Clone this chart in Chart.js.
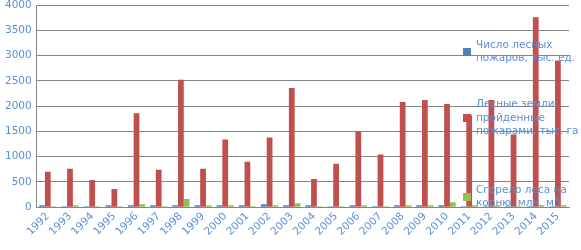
<!DOCTYPE html>
<html>
<head>
<meta charset="utf-8">
<script src="https://cdn.jsdelivr.net/npm/chart.js@4"></script>
<style>
  html, body { margin: 0; padding: 0; background: #fff; }
  #wrap { width: 581px; height: 250px; position: relative; }
</style>
</head>
<body>
<div id="wrap"><canvas id="chart"></canvas></div>
<script>
const years = ["1992", "1993", "1994", "1995", "1996", "1997", "1998", "1999", "2000", "2001", "2002", "2003",
  "2004", "2005", "2006", "2007", "2008", "2009", "2010", "2011", "2012", "2013", "2014", "2015"];

const fireCount = [40, 20, 20, 40, 40, 40, 40, 40, 40, 40, 60, 40,
  40, 20, 40, 20, 40, 40, 40, 20, 20, 20, 20, 20];
const burnedLand = [700, 760, 540, 360, 1860, 740, 2520, 760, 1340, 900, 1380, 2360,
  560, 860, 1500, 1040, 2080, 2120, 2040, 1820, 2120, 1440, 3760, 2900];
const burnedTimber = [20, 40, 20, 20, 60, 20, 160, 40, 40, 20, 40, 80,
  20, 20, 40, 20, 40, 40, 100, 40, 40, 20, 40, 40];

const labelFire = ["Число лесных", "пожаров, тыс. ед."];
const labelLand = ["Лесные земли,", "пройденные", "пожарами, тыс. га"];
const labelTimber = ["Сгорело леса на", "корню, млн. м3"];

const textColor = "#5b8fdb";
const gridColor = "#868686";
const font = { family: "DejaVu Sans", size: 10.5 };

// legend sits on top of the plot, items spread down the right side
const sideLegend = {
  id: "sideLegend",
  afterDraw(chart) {
    const ctx = chart.ctx;
    const rows = [52, 118, 197];
    ctx.save();
    ctx.font = `${font.size}px ${font.family}`;
    ctx.textBaseline = "middle";
    chart.data.datasets.forEach((ds, i) => {
      const cy = rows[i];
      ctx.fillStyle = ds.backgroundColor;
      ctx.fillRect(463, cy - 4, 8, 8);
      ctx.fillStyle = textColor;
      const lines = ds.label;
      const lh = 13.5;
      const y0 = cy - (lines.length - 1) * lh / 2;
      lines.forEach((t, j) => ctx.fillText(t, 476, y0 + j * lh));
    });
    ctx.restore();
  }
};

new Chart(document.getElementById("chart"), {
  type: "bar",
  data: {
    labels: years,
    datasets: [
      { label: labelFire, data: fireCount, backgroundColor: "#4f81bd" },
      { label: labelLand, data: burnedLand, backgroundColor: "#c0504d" },
      { label: labelTimber, data: burnedTimber, backgroundColor: "#9bbb59" }
    ]
  },
  options: {
    responsive: true,
    maintainAspectRatio: false,
    animation: false,
    layout: { padding: { top: 0, right: 12, left: 0, bottom: 9 } },
    datasets: { bar: { categoryPercentage: 0.78, barPercentage: 1.0 } },
    plugins: {
      legend: { display: false },
      tooltip: { enabled: false }
    },
    scales: {
      x: {
        grid: { display: false, drawTicks: false },
        border: { color: gridColor },
        ticks: { color: textColor, font: font, autoSkip: false, maxRotation: 45, minRotation: 45, padding: 3 }
      },
      y: {
        min: 0,
        max: 4000,
        grid: { color: gridColor, drawTicks: false },
        border: { color: gridColor },
        ticks: { color: textColor, font: font, stepSize: 500, padding: 5, callback: (v) => String(v) },
        afterFit: (scale) => { scale.paddingTop = 5; }
      }
    }
  },
  plugins: [sideLegend]
});
</script>
</body>
</html>
